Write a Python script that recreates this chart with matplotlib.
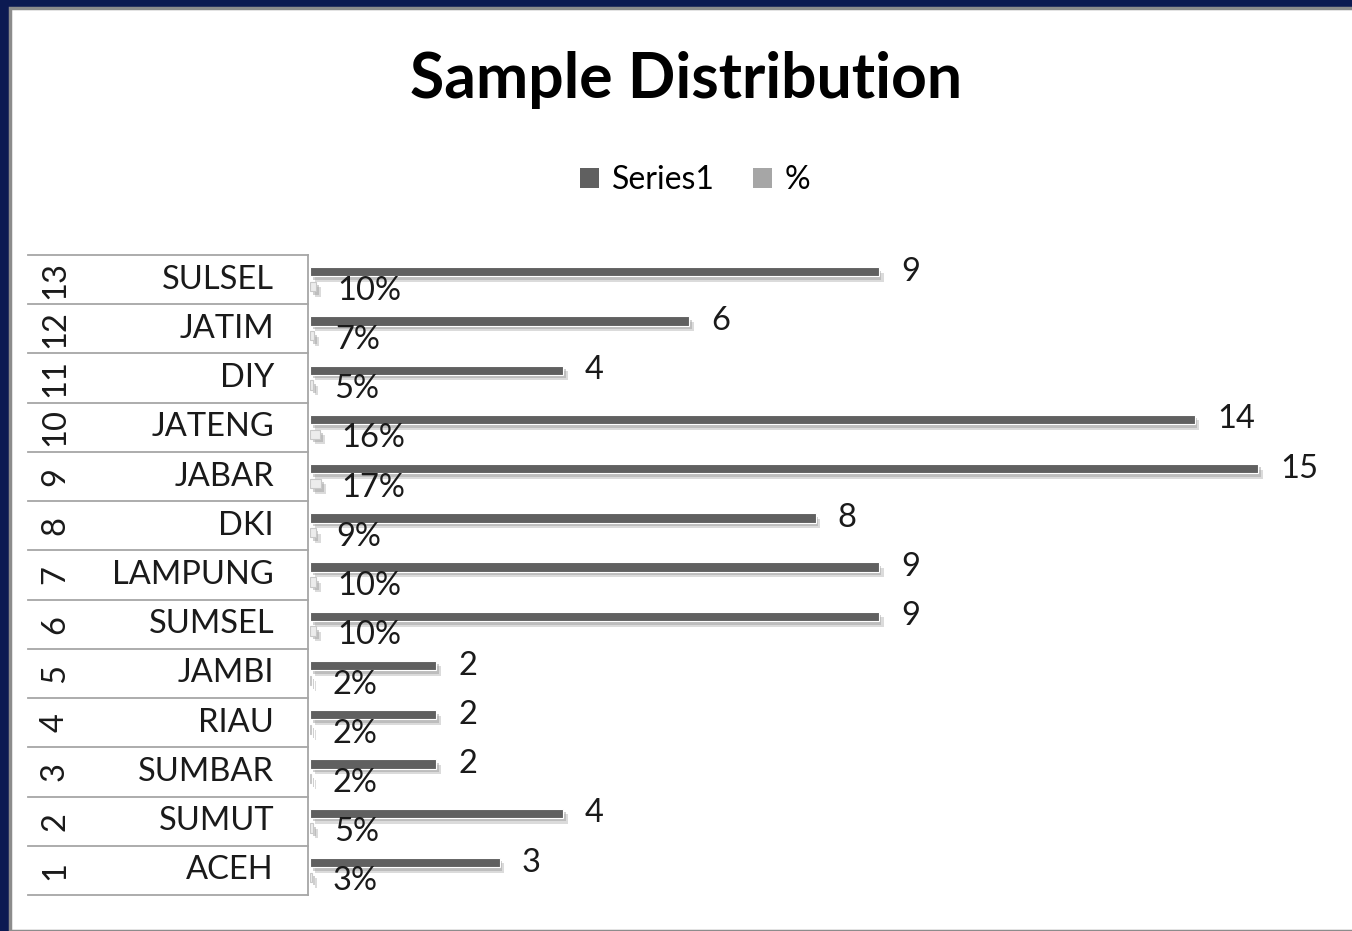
import numpy as np
import matplotlib
matplotlib.use('Agg')
import matplotlib.pyplot as plt
import matplotlib.patheffects as pe
from matplotlib.patches import Rectangle, Patch
from matplotlib.transforms import blended_transform_factory

# ====================== data ======================
nums = ['1', '2', '3', '4', '5', '6', '7', '8', '9', '10', '11', '12', '13']
names = ['ACEH', 'SUMUT', 'SUMBAR', 'RIAU', 'JAMBI', 'SUMSEL', 'LAMPUNG',
         'DKI', 'JABAR', 'JATENG', 'DIY', 'JATIM', 'SULSEL']
series1 = [3, 4, 2, 2, 2, 9, 9, 8, 15, 14, 4, 6, 9]
pct = [0.03, 0.05, 0.02, 0.02, 0.02, 0.10, 0.10, 0.09, 0.17, 0.16, 0.05, 0.07, 0.10]

plt.rcParams['font.family'] = ['Lato', 'DejaVu Sans']

W, H = 1352, 931
fig = plt.figure(figsize=(W / 100, H / 100), dpi=100)
fig.patch.set_facecolor('#0c1a52')

# white chart panel on the slide background
fig.patches.append(Rectangle((10 / W, 0), 1, 1 - 8 / H, transform=fig.transFigure,
                             facecolor='white', edgecolor='#8c8c8c', lw=2.5, zorder=-5))

ax = fig.add_axes([310 / W, 1 - 895 / H, 1011 / W, 640 / H])
ax.set_zorder(2)
ax.set_xlim(0, 16)
ax.set_ylim(0, 13)
ax.set_facecolor('none')
for s in ax.spines.values():
    s.set_visible(False)
ax.set_xticks([])
ax.set_yticks([])

y = np.arange(len(names))
bh = 0.19
shadow = [pe.SimplePatchShadow(offset=(3.5, -4), shadow_rgbFace='#c4c4c4', alpha=0.6),
          pe.SimplePatchShadow(offset=(2, -2.5), shadow_rgbFace='#a0a0a0', alpha=0.5),
          pe.Normal()]

b1 = ax.barh(y + 0.66, series1, height=bh, color='#606060', edgecolor='white', lw=0.8, zorder=3)
b2 = ax.barh(y + 0.36, pct, height=bh, color='#ececec', edgecolor='#c8c8c8', lw=0.8, zorder=3)
for b in list(b1) + list(b2):
    b.set_path_effects(shadow)

fs = 23.5
for yi, v in zip(y, series1):
    ax.annotate(str(v), (v, yi + 0.66), xytext=(16, 0), textcoords='offset points',
                ha='left', va='center', fontsize=fs, color='#1a1a1a')
for yi, v in zip(y, pct):
    ax.annotate(f'{v:.0%}', (v, yi + 0.36), xytext=(15, -3), textcoords='offset points',
                ha='left', va='center', fontsize=fs, color='#1a1a1a')

# multi-level category axis drawn as a table on the left
tr = blended_transform_factory(fig.transFigure, ax.transData)
for k in range(len(names) + 1):
    ax.plot([28 / W, 308 / W], [k, k], transform=tr, color='#a6a6a6', lw=1.3, clip_on=False)
ax.plot([308 / W, 308 / W], [0, 13], transform=tr, color='#a6a6a6', lw=1.3, clip_on=False)
for yi, n, nm in zip(y, nums, names):
    ax.text(55 / W, yi + 0.5, n, transform=tr, rotation=90, ha='center', va='center',
            fontsize=fs, color='#1a1a1a')
    ax.text(274 / W, yi + 0.5, nm, transform=tr, ha='right', va='center',
            fontsize=fs, color='#1a1a1a')

fig.text(686 / W, 1 - 80 / H, 'Sample Distribution', ha='center', va='center',
         fontsize=45, fontweight='bold', color='black')

handles = [Patch(facecolor='#606060', label='Series1'), Patch(facecolor='#a6a6a6', label='%')]
fig.legend(handles=handles, loc='center', bbox_to_anchor=(695 / W, 1 - 180 / H), ncol=2,
           frameon=False, fontsize=23, handlelength=0.6, handleheight=0.6,
           handletextpad=0.4, columnspacing=1.2)

plt.savefig('out.png', dpi=100, facecolor=fig.get_facecolor())
